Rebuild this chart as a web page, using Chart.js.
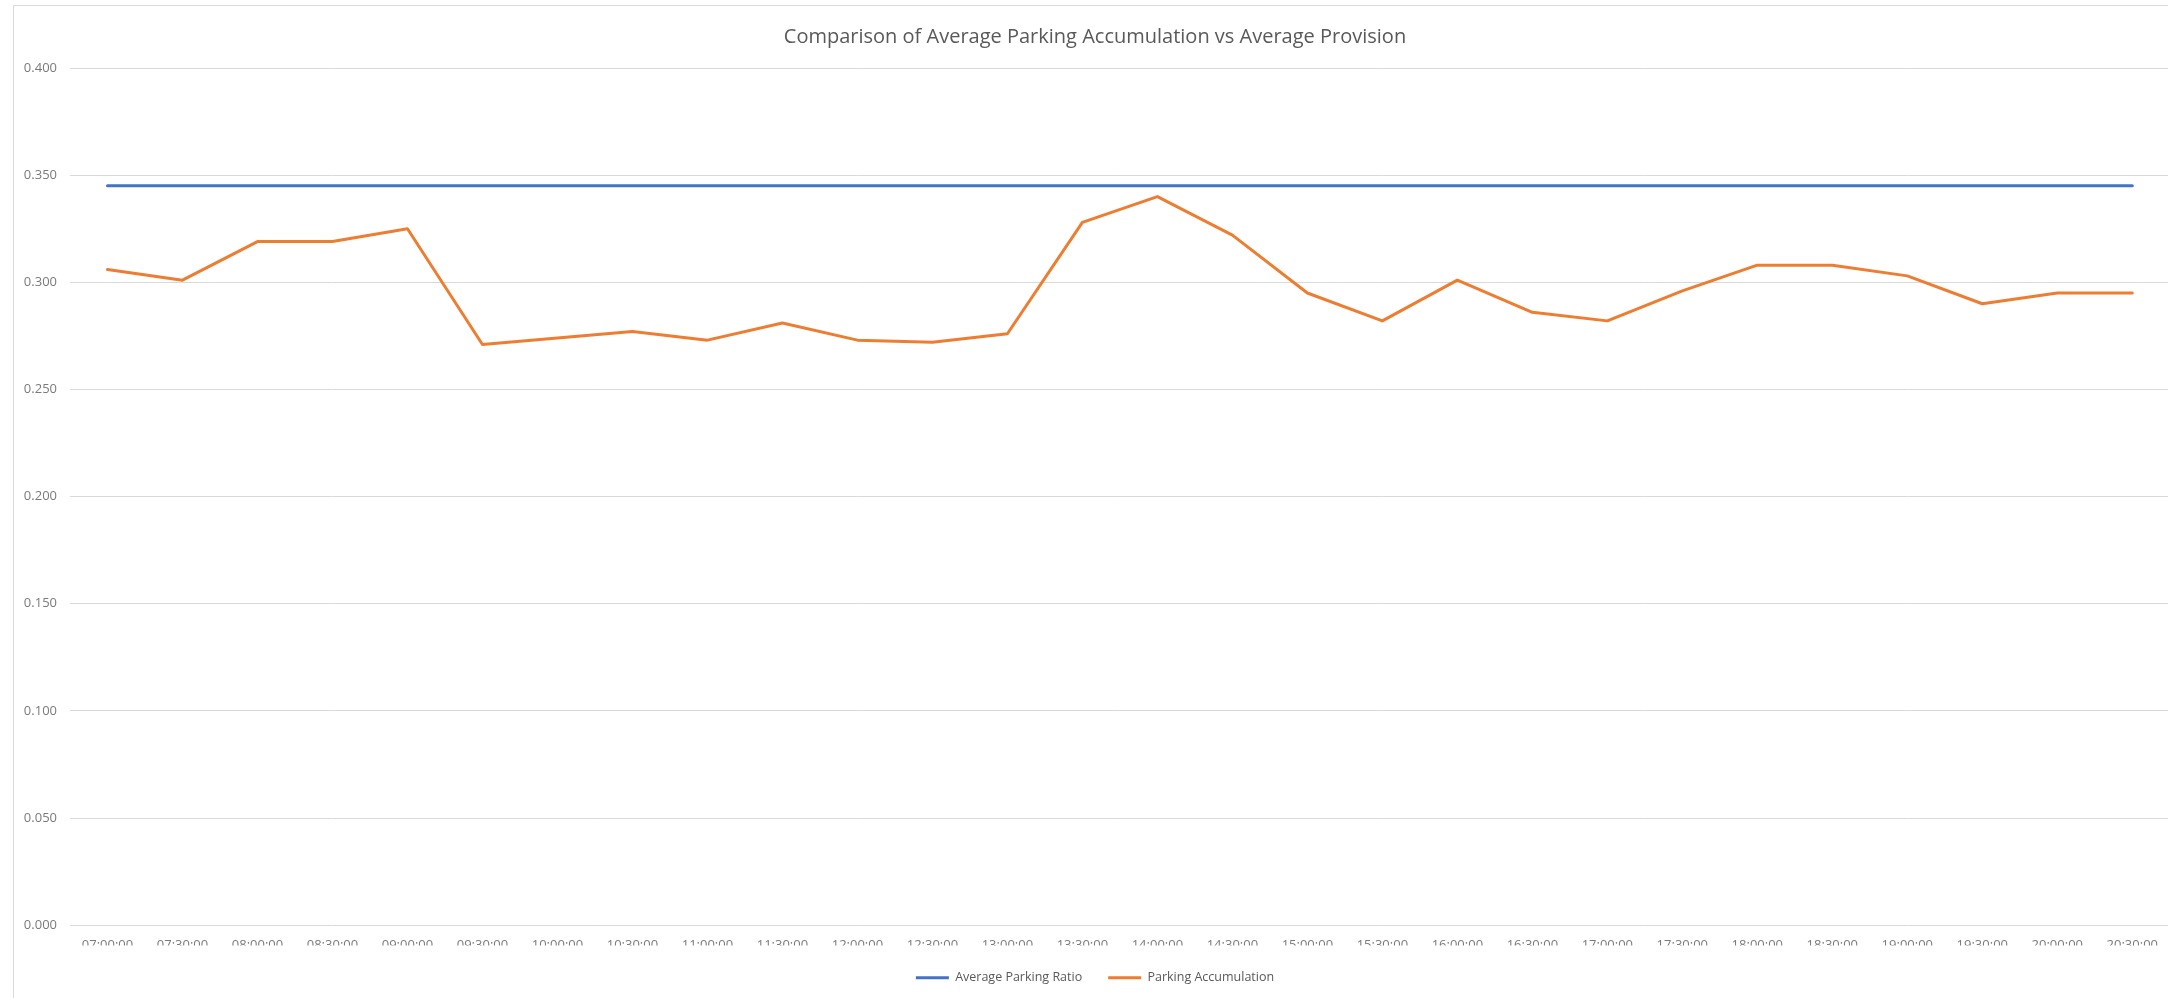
<!DOCTYPE html>
<html>
<head>
<meta charset="utf-8">
<script src="https://cdn.jsdelivr.net/npm/chart.js@4/dist/chart.umd.min.js"></script>
<style>
  html, body { margin: 0; padding: 0; background: #ffffff; overflow: hidden; }
  #wrap { width: 2168px; height: 998px; overflow: hidden; position: relative; }
  canvas { display: block; }
</style>
</head>
<body>
<div id="wrap"><canvas id="c" width="2170" height="998" style="width:2170px;height:998px"></canvas></div>
<script>
const chartTitle = 'Comparison of Average Parking Accumulation vs Average Provision';

const timeLabels = [
  '07:00:00', '07:30:00', '08:00:00', '08:30:00', '09:00:00', '09:30:00', '10:00:00',
  '10:30:00', '11:00:00', '11:30:00', '12:00:00', '12:30:00', '13:00:00', '13:30:00',
  '14:00:00', '14:30:00', '15:00:00', '15:30:00', '16:00:00', '16:30:00', '17:00:00',
  '17:30:00', '18:00:00', '18:30:00', '19:00:00', '19:30:00', '20:00:00', '20:30:00'
];

const averageParkingRatio = [
  0.345, 0.345, 0.345, 0.345, 0.345, 0.345, 0.345,
  0.345, 0.345, 0.345, 0.345, 0.345, 0.345, 0.345,
  0.345, 0.345, 0.345, 0.345, 0.345, 0.345, 0.345,
  0.345, 0.345, 0.345, 0.345, 0.345, 0.345, 0.345
];

const parkingAccumulation = [
  0.306, 0.301, 0.319, 0.319, 0.325, 0.271, 0.274,
  0.277, 0.273, 0.281, 0.273, 0.272, 0.276, 0.328,
  0.340, 0.322, 0.295, 0.282, 0.301, 0.286, 0.282,
  0.296, 0.308, 0.308, 0.303, 0.290, 0.295, 0.295
];

const yTickMin = 0;
const yTickMax = 0.4;
const yTickStep = 0.05;

const frame = {
  id: 'frame',
  beforeDraw(chart) {
    const ctx = chart.ctx;
    ctx.save();
    ctx.fillStyle = '#ffffff';
    ctx.fillRect(0, 0, chart.width, chart.height);
    ctx.strokeStyle = '#d9d9d9';
    ctx.lineWidth = 1;
    ctx.strokeRect(13.5, 5.5, 4000, 4000);
    ctx.restore();
  }
};

new Chart(document.getElementById('c'), {
  type: 'line',
  data: {
    labels: timeLabels,
    datasets: [
      {
        label: 'Average Parking Ratio',
        data: averageParkingRatio,
        borderColor: '#4472c4',
        backgroundColor: '#4472c4',
        borderWidth: 3,
        pointRadius: 0,
        tension: 0,
        borderJoinStyle: 'round',
        borderCapStyle: 'round'
      },
      {
        label: 'Parking Accumulation',
        data: parkingAccumulation,
        borderColor: '#ed7d31',
        backgroundColor: '#ed7d31',
        borderWidth: 3,
        pointRadius: 0,
        tension: 0,
        borderJoinStyle: 'round',
        borderCapStyle: 'round'
      }
    ]
  },
  options: {
    responsive: false,
    animation: false,
    devicePixelRatio: 1,
    layout: { padding: { left: 20, right: 0, top: 0, bottom: 4 } },
    plugins: {
      title: {
        display: true,
        text: chartTitle,
        color: '#595959',
        font: { family: 'Open Sans', size: 20, weight: 'normal', lineHeight: 1.2 },
        padding: { top: 25, bottom: 19 }
      },
      legend: {
        display: true,
        position: 'bottom',
        labels: {
          usePointStyle: true,
          pointStyle: 'line',
          pointStyleWidth: 33,
          boxHeight: 12,
          padding: 26,
          color: '#595959',
          font: { family: 'Open Sans', size: 12.5 }
        }
      },
      tooltip: { enabled: false }
    },
    scales: {
      x: {
        type: 'category',
        offset: true,
        afterFit(scale) { scale.height = 20.3; },
        grid: { display: false, drawTicks: false },
        border: { display: false },
        ticks: {
          color: '#7a7a7a',
          font: { family: 'Open Sans', size: 13 },
          padding: 12,
          maxRotation: 0,
          minRotation: 0,
          autoSkip: false
        }
      },
      y: {
        min: yTickMin,
        max: yTickMax,
        afterFit(scale) { scale.width = 50; },
        grid: { color: '#d9d9d9', lineWidth: 1, drawTicks: false },
        border: { display: false },
        ticks: {
          stepSize: yTickStep,
          color: '#7a7a7a',
          font: { family: 'Open Sans', size: 13 },
          padding: 13,
          callback: (v) => Number(v).toFixed(3)
        }
      }
    }
  },
  plugins: [frame]
});
</script>
</body>
</html>
